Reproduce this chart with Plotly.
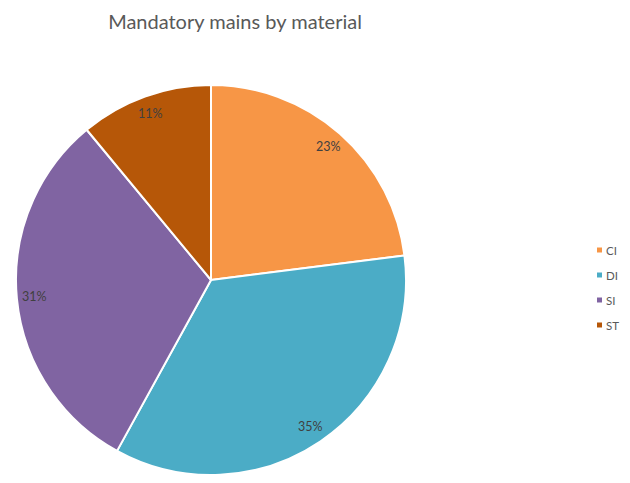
import numpy as np
import plotly.graph_objects as go

categories = ["CI", "DI", "SI", "ST"]
values = [23, 35, 31, 11]
colors = ["#F79646", "#4BACC6", "#8064A2", "#B65708"]
title_text = "Mandatory mains by material"

OFF = 8  # page body margin in the browser
W, H = 630 - 2 * OFF, 483 - 2 * OFF  # keep the page free of scrollbars


def px(x):  # window x-pixel -> paper x
    return (x - OFF) / W


def py(y):  # window y-pixel (from top) -> paper y
    return 1 - (y - OFF) / H


# pie geometry in window pixels
pcx, pcy, PR = 211, 280, 195
fig = go.Figure(go.Pie(
    labels=categories,
    values=values,
    sort=False,
    direction="clockwise",
    rotation=0,
    marker=dict(colors=colors, line=dict(color="white", width=2)),
    textinfo="none",
    domain=dict(x=[px(pcx - PR), px(pcx + PR)], y=[max(0, py(pcy + PR)), py(pcy - PR)]),
    hoverinfo="label+percent",
    showlegend=False,
))

# percentage labels near the outer edge, at each slice's mid-angle
vals = np.array(values, dtype=float)
frac = vals / vals.sum()
mid = (np.cumsum(frac) - frac / 2) * 2 * np.pi
annotations = []
for f, a in zip(frac, mid):
    r = 0.91 * PR
    annotations.append(dict(
        x=px(pcx + r * np.sin(a)), y=py(pcy - r * np.cos(a)),
        xref="paper", yref="paper", text=f"{f:.0%}", showarrow=False,
        xanchor="center", yanchor="middle",
        font=dict(family="Lato", size=12.5, color="#404040"),
    ))

# legend (small squares + labels)
shapes = []
for i, (c, col) in enumerate(zip(categories, colors)):
    yc = 250 + 25 * i
    shapes.append(dict(type="rect", xref="paper", yref="paper",
                       x0=px(597), x1=px(602), y0=py(yc + 2.5), y1=py(yc - 2.5),
                       fillcolor=col, line=dict(width=0)))
    annotations.append(dict(x=px(604), y=py(yc), xref="paper", yref="paper",
                            text=c, showarrow=False, xanchor="left", yanchor="middle",
                            font=dict(family="Lato", size=11.5, color="#595959")))

fig.update_layout(
    width=W, height=H,
    margin=dict(l=0, r=0, t=0, b=0),
    paper_bgcolor="white",
    plot_bgcolor="white",
    title=dict(text=title_text, x=px(235), xanchor="center", y=py(22), yanchor="middle",
               font=dict(family="Lato", size=20, color="#595959")),
    annotations=annotations,
    shapes=shapes,
    showlegend=False,
)

fig.write_html("out.html")
